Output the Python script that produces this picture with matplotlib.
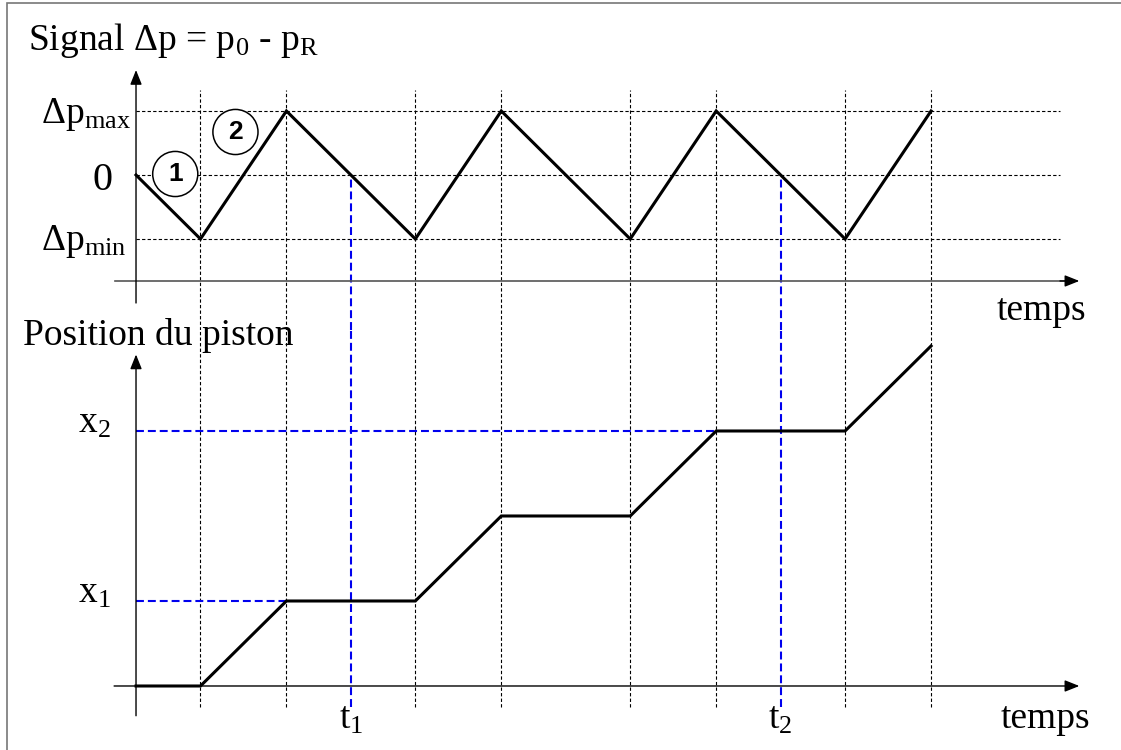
import numpy as np
import matplotlib
matplotlib.use('Agg')
from matplotlib import pyplot as plt
from matplotlib.patches import Rectangle

plt.rcParams['font.family'] = ['Liberation Serif', 'DejaVu Serif']
plt.rcParams['mathtext.fontset'] = 'custom'
plt.rcParams['mathtext.rm'] = 'Liberation Serif'
plt.rcParams['mathtext.it'] = 'Liberation Serif:italic'

# data (time in arbitrary units)
times = [0, 1.5, 3.5, 6.5, 8.5, 11.5, 13.5, 16.5, 18.5]
signal = [0, -1, 1, -1, 1, -1, 1, -1, 1]
position = [0, 0, 1, 1, 2, 2, 3, 3, 4]
sig_levels = [1, 0, -1]
sig_labels = ['Δp$_\\mathrm{max}$', '0', 'Δp$_\\mathrm{min}$']
t_marks = [5.0, 15.0]
t_labels = ['t$_\\mathrm{1}$', 't$_\\mathrm{2}$']
x_levels = [1, 3]
x_labels = ['x$_\\mathrm{1}$', 'x$_\\mathrm{2}$']

FS = 27
grid_kw = dict(color='k', lw=0.8, linestyles=(0, (3, 2)))
blue_kw = dict(color='#0000ee', lw=1.5, linestyles=(0, (3.8, 1.9)))
arr = dict(arrowstyle='-|>,head_length=0.55,head_width=0.22', mutation_scale=16,
           lw=1.0, color='k', shrinkA=0, shrinkB=0)

fig = plt.figure(figsize=(11.21, 7.5), dpi=100)
ax1 = fig.add_axes([0, 0.56, 1, 0.44])
ax2 = fig.add_axes([0, 0, 1, 0.56])
for ax in (ax1, ax2):
    ax.set_xlim(-3.165, 22.92)
    ax.axis('off')
ax1.set_ylim(-2.422, 2.734)
ax2.set_ylim(-0.753, 4.188)

# ---- signal
y1lo, y1hi = ax1.get_ylim()
ax1.vlines(times[1:], y1lo, 1.33, **grid_kw)
ax1.hlines(sig_levels, 0, 21.5, **grid_kw)
ax1.vlines(t_marks, y1lo, 0, **blue_kw)
ax1.annotate('', xy=(0, 1.64), xytext=(0, -2.0), arrowprops=arr)
ax1.plot([-0.49, 21.7], [-1.656, -1.656], color='#555555', lw=1.2)
ax1.annotate('', xy=(21.95, -1.656), xytext=(21.5, -1.656), arrowprops=arr)
ax1.plot(times, signal, color='k', lw=2.2, solid_joinstyle='miter')

ax1.text(-2.51, 1.95, 'Signal Δp = p$_\\mathrm{0}$ - p$_\\mathrm{R}$', fontsize=FS, va='baseline')
ax1.text(-2.21, 0.81, sig_labels[0], fontsize=FS, va='baseline')
ax1.text(-0.77, -0.23, sig_labels[1], fontsize=FS + 2, va='baseline', ha='center')
ax1.text(-2.21, -1.17, sig_labels[2], fontsize=FS, va='baseline')
ax1.text(22.1, -2.27, 'temps', fontsize=FS, va='baseline', ha='right')

# phase numbers
for i, (dx, dy) in enumerate([(7, 33), (-8, 43)]):
    tm = (times[i] + times[i + 1]) / 2
    sm = (signal[i] + signal[i + 1]) / 2
    ax1.annotate(str(i + 1), xy=(tm, sm), xytext=(dx, dy), textcoords='offset pixels',
                 ha='center', va='center', fontsize=19, fontweight='bold',
                 family='Liberation Sans',
                 bbox=dict(boxstyle='circle,pad=0.4', fc='white', ec='k', lw=1.1))

# ---- piston position
y2lo, y2hi = ax2.get_ylim()
ax2.vlines(times[1:], -0.25, y2hi, **grid_kw)
ax2.vlines(t_marks, -0.25, y2hi, **blue_kw)
for lev, lab in zip(x_levels, x_labels):
    t_end = times[position.index(lev)]
    ax2.hlines(lev, 0, t_end, **blue_kw)
    ax2.text(-0.6, lev - 0.02, lab, fontsize=FS, va='baseline', ha='right')
for tm, lab in zip(t_marks, t_labels):
    ax2.text(tm, -0.5, lab, fontsize=FS, va='baseline', ha='center')
ax2.annotate('', xy=(0, 3.9), xytext=(0, -0.35), arrowprops=arr)
ax2.annotate('', xy=(21.95, 0), xytext=(-0.51, 0), arrowprops=arr)
ax2.plot(times, position, color='k', lw=2.2, solid_joinstyle='miter')
ax2.text(-2.63, 4.01, 'Position du piston', fontsize=FS, va='baseline')
ax2.text(22.2, -0.49, 'temps', fontsize=FS, va='baseline', ha='right')

fig.add_artist(Rectangle((7 / 1121, -0.01), 1.2, 1.01 - 3 / 750, transform=fig.transFigure,
                         fill=False, ec='#777777', lw=1.2))

fig.savefig('out.png', dpi=100)
